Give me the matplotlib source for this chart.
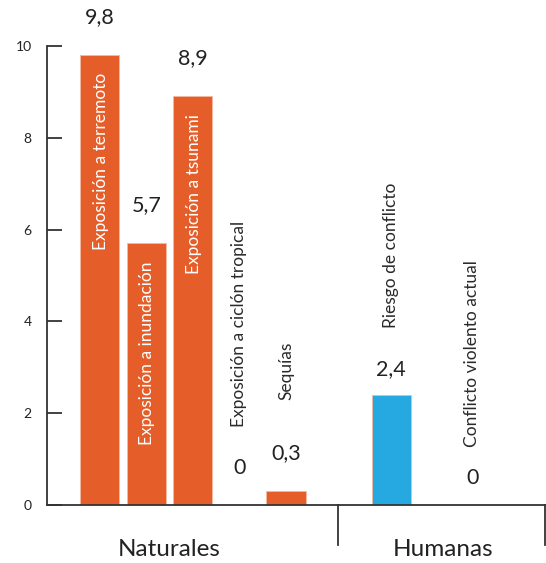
import matplotlib.pyplot as plt

plt.rcParams['font.family'] = ['Lato', 'DejaVu Sans']

labels = ['Exposición a terremoto', 'Exposición a inundación', 'Exposición a tsunami',
          'Exposición a ciclón tropical', 'Sequías', 'Riesgo de conflicto',
          'Conflicto violento actual']
values = [9.8, 5.7, 8.9, 0, 0.3, 2.4, 0]
value_text = ['9,8', '5,7', '8,9', '0', '0,3', '2,4', '0']
groups = ['Naturales', 'Humanas']

xpos = [0, 1, 2, 3, 4, 6.26, 8]
orange = '#E55E2A'
blue = '#26A9E0'
colors = [orange] * 5 + [blue, orange]
inside = [True, True, True, False, False, False, False]
# pixel offsets for the value numbers and the outside names
num_off = [38, 38, 38, 37, 38, 26, 27]
name_off = [0, 0, 0, 78, 91, 67, 58]

fig = plt.figure(figsize=(5.46, 5.63), dpi=100)
ax = fig.add_axes([47 / 546, 1 - 505 / 563, 1 - 47 / 546, (505 - 46) / 563])

ax.bar(xpos, values, width=0.84, color=colors, edgecolor='#f3b9a0', linewidth=0.6)

for x, v, t, ins, no, nm, lab in zip(xpos, values, value_text, inside, num_off, name_off, labels):
    ax.annotate(t, (x, v), xytext=(0, no), textcoords='offset pixels',
                ha='center', va='center', fontsize=15.5, color='#222222',
                annotation_clip=False)
    if ins:
        ax.annotate(lab, (x, v), xytext=(1, -18), textcoords='offset pixels',
                    ha='center', va='top', rotation=90, fontsize=12.5,
                    color='white')
    else:
        ax.annotate(lab, (x, v), xytext=(0, nm), textcoords='offset pixels',
                    ha='center', va='bottom', rotation=90, fontsize=12.5,
                    color='#2a2a2a', annotation_clip=False)

ax.set_xlim(-1.13, 9.58)
ax.set_ylim(0, 10)
ax.set_yticks([0, 2, 4, 6, 8, 10])
ax.tick_params(axis='y', direction='in', length=11, width=1.3, color='#333333',
               labelsize=10, labelcolor='#222222', pad=11)
ax.set_xticks([])
for s in ['top', 'right']:
    ax.spines[s].set_visible(False)
for s in ['left', 'bottom']:
    ax.spines[s].set_color('#333333')
    ax.spines[s].set_linewidth(1.3)

# group separators below the axis
for xs in [5.12, 9.56]:
    ax.plot([xs, xs], [0, -0.87], color='#333333', lw=1.3, clip_on=False)

ax.text(1.5, -0.98, groups[0], ha='center', va='center', fontsize=17.5, color='#222222')
ax.text(7.37, -0.98, groups[1], ha='center', va='center', fontsize=17.5, color='#222222')

fig.savefig('out.png', dpi=100)
